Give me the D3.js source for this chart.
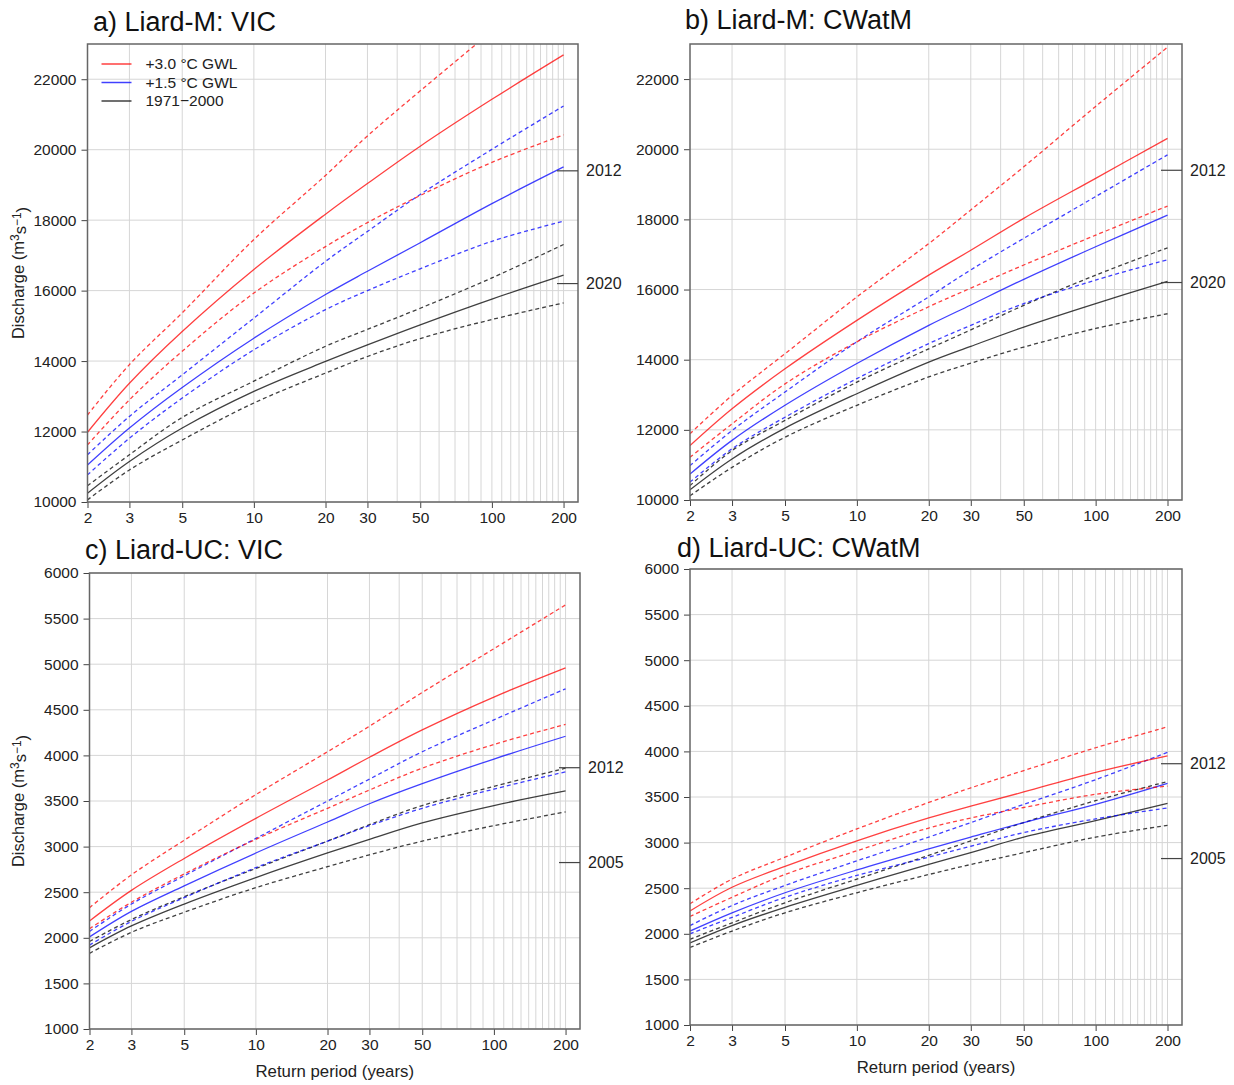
<!DOCTYPE html>
<html>
<head>
<meta charset="utf-8">
<script src="https://cdn.jsdelivr.net/npm/d3@7"></script>
<style>
  body { margin: 0; background: #fff; }
  svg { font-family: "Liberation Sans", Arial, sans-serif; }
</style>
</head>
<body>
<div id="chart"></div>
<script>
/* Return period curves, Liard river, four panels */

const returnPeriods = [2, 3, 5, 10, 20, 30, 50, 100, 200];
const xTickValues = [2, 3, 5, 10, 20, 30, 50, 100, 200];
const xGridValues = [3, 5, 10, 20, 30, 40, 50, 60, 70, 80, 90, 100, 110, 120, 130, 140, 150, 160, 170, 180, 190, 200];
const legendLabels = ["+3.0 °C GWL", "+1.5 °C GWL", "1971\u22122000"];

// a) Liard-M: VIC
const a_gwl30_med = [11980, 13370, 14840, 16600, 18170, 19040, 20100, 21430, 22690];
const a_gwl30_lo  = [11620, 12900, 14280, 15930, 17250, 17930, 18700, 19640, 20420];
const a_gwl30_hi  = [12470, 13900, 15370, 17450, 19270, 20390, 21670, 23370, 25100];
const a_gwl15_med = [11050, 12100, 13250, 14650, 15890, 16550, 17360, 18470, 19510];
const a_gwl15_lo  = [10770, 11810, 12950, 14320, 15460, 16000, 16620, 17400, 17970];
const a_gwl15_hi  = [11340, 12430, 13610, 15220, 16830, 17680, 18730, 20010, 21240];
const a_base_med  = [10250, 11150, 12100, 13140, 13990, 14460, 15030, 15760, 16440];
const a_base_lo   = [10060, 10910, 11760, 12810, 13660, 14130, 14640, 15180, 15650];
const a_base_hi   = [10460, 11340, 12400, 13430, 14420, 14900, 15500, 16360, 17310];

// b) Liard-M: CWatM
const b_gwl30_med = [11550, 12600, 13740, 15120, 16410, 17120, 18030, 19170, 20310];
const b_gwl30_lo  = [11220, 12170, 13310, 14510, 15510, 16040, 16700, 17550, 18380];
const b_gwl30_hi  = [11890, 12980, 14170, 15790, 17310, 18270, 19500, 21220, 22910];
const b_gwl15_med = [10740, 11700, 12700, 13890, 14980, 15560, 16290, 17220, 18120];
const b_gwl15_lo  = [10510, 11460, 12360, 13460, 14460, 14980, 15600, 16270, 16850];
const b_gwl15_hi  = [10980, 11980, 13080, 14510, 15790, 16560, 17460, 18650, 19840];
const b_base_med  = [10290, 11170, 12050, 13030, 13930, 14380, 14930, 15600, 16230];
const b_base_lo   = [10120, 10930, 11790, 12700, 13510, 13900, 14360, 14890, 15310];
const b_base_hi   = [10410, 11410, 12270, 13360, 14310, 14850, 15550, 16410, 17190];

// c) Liard-UC: VIC
const c_gwl30_med = [2185, 2520, 2870, 3310, 3730, 3980, 4280, 4640, 4960];
const c_gwl30_lo  = [2100, 2390, 2700, 3080, 3420, 3620, 3860, 4120, 4340];
const c_gwl30_hi  = [2330, 2690, 3070, 3570, 4040, 4320, 4690, 5170, 5650];
const c_gwl15_med = [2010, 2290, 2570, 2930, 3270, 3470, 3690, 3960, 4210];
const c_gwl15_lo  = [1920, 2180, 2440, 2770, 3060, 3230, 3420, 3630, 3820];
const c_gwl15_hi  = [2070, 2370, 2680, 3090, 3500, 3740, 4040, 4390, 4730];
const c_base_med  = [1890, 2130, 2370, 2660, 2930, 3080, 3260, 3450, 3610];
const c_base_lo   = [1830, 2060, 2280, 2550, 2780, 2910, 3060, 3230, 3380];
const c_base_hi   = [1960, 2200, 2450, 2760, 3060, 3240, 3450, 3660, 3860];

// d) Liard-UC: CWatM
const d_gwl30_med = [2250, 2510, 2740, 3020, 3270, 3400, 3555, 3770, 3950];
const d_gwl30_lo  = [2190, 2400, 2650, 2910, 3160, 3270, 3385, 3530, 3620];
const d_gwl30_hi  = [2330, 2600, 2840, 3150, 3440, 3600, 3790, 4040, 4270];
const d_gwl15_med = [2030, 2230, 2450, 2700, 2930, 3060, 3220, 3420, 3650];
const d_gwl15_lo  = [2000, 2180, 2400, 2640, 2840, 2960, 3110, 3260, 3380];
const d_gwl15_hi  = [2090, 2310, 2530, 2800, 3060, 3220, 3420, 3690, 3990];
const d_base_med  = [1900, 2090, 2290, 2530, 2760, 2890, 3060, 3240, 3430];
const d_base_lo   = [1850, 2030, 2230, 2450, 2650, 2760, 2890, 3060, 3190];
const d_base_hi   = [1940, 2120, 2340, 2600, 2860, 3020, 3220, 3460, 3670];

// observed floods marked on the right axis
const mEventYears = ["2012", "2020"];
const mEventQ = [19400, 16200];
const ucEventYears = ["2012", "2005"];
const ucEventQ = [3865, 2825];

const mTicks = [10000, 12000, 14000, 16000, 18000, 20000, 22000];
const ucTicks = [1000, 1500, 2000, 2500, 3000, 3500, 4000, 4500, 5000, 5500, 6000];

const colors = {red: "rgba(255,0,0,0.75)", blue: "rgba(0,0,255,0.75)", black: "rgba(0,0,0,0.75)"};

const width = 1234, height = 1085;

let svg = d3.select("#chart")
    .append("svg")
    .attr("width", width)
    .attr("height", height);

function seriesFor(base, g15, g30) {
    // draw order: baseline, +1.5, +3.0
    return [
        {v: base[1], c: colors.black, dash: true}, {v: base[2], c: colors.black, dash: true}, {v: base[0], c: colors.black, dash: false},
        {v: g15[1], c: colors.blue, dash: true}, {v: g15[2], c: colors.blue, dash: true}, {v: g15[0], c: colors.blue, dash: false},
        {v: g30[1], c: colors.red, dash: true}, {v: g30[2], c: colors.red, dash: true}, {v: g30[0], c: colors.red, dash: false}
    ];
}

function drawPanel(p) {
    const x = d3.scaleLog().domain([2, 230]).range([p.left, p.right]);
    const y = d3.scaleLinear().domain(p.yDomain).range([p.bottom, p.top]);
    const g = svg.append("g");

    g.append("clipPath").attr("id", "clip-" + p.id)
        .append("rect")
        .attr("x", p.left).attr("y", p.top)
        .attr("width", p.right - p.left).attr("height", p.bottom - p.top);

    // grid
    g.append("g").selectAll("line").data(xGridValues).join("line")
        .attr("x1", d => x(d)).attr("x2", d => x(d))
        .attr("y1", p.top).attr("y2", p.bottom)
        .attr("stroke", "#d6d6d6").attr("stroke-width", 1);
    g.append("g").selectAll("line").data(p.yTicks).join("line")
        .attr("x1", p.left).attr("x2", p.right)
        .attr("y1", d => y(d)).attr("y2", d => y(d))
        .attr("stroke", "#d6d6d6").attr("stroke-width", 1);

    // curves
    const line = d3.line()
        .x((d, i) => x(returnPeriods[i]))
        .y(d => y(d))
        .curve(d3.curveCatmullRom.alpha(0.5));

    g.append("g").attr("clip-path", `url(#clip-${p.id})`)
        .selectAll("path").data(p.series).join("path")
        .attr("d", d => line(d.v))
        .attr("fill", "none")
        .attr("stroke", d => d.c)
        .attr("stroke-width", 1.3)
        .attr("stroke-dasharray", d => d.dash ? "4,3" : null);

    // axes
    const xAxis = g.append("g")
        .attr("transform", `translate(0,${p.bottom})`)
        .call(d3.axisBottom(x).tickValues(xTickValues).tickFormat(d3.format("d")).tickSize(6).tickPadding(4));
    const yAxis = g.append("g")
        .attr("transform", `translate(${p.left},0)`)
        .call(d3.axisLeft(y).tickValues(p.yTicks).tickFormat(d3.format("d")).tickSize(6).tickPadding(5));
    for (let ax of [xAxis, yAxis]) {
        ax.select(".domain").remove();
        ax.selectAll(".tick line").attr("stroke", "#444");
        ax.selectAll(".tick text").attr("fill", "#222").style("font-size", "15.5px")
            .style("font-family", '"Liberation Sans", Arial, sans-serif');
    }

    // box
    g.append("rect")
        .attr("x", p.left).attr("y", p.top)
        .attr("width", p.right - p.left).attr("height", p.bottom - p.top)
        .attr("fill", "none").attr("stroke", "#666").attr("stroke-width", 1.5);

    // observed events on the right axis
    const ev = g.append("g").selectAll("g").data(p.eventYears).join("g");
    ev.append("line")
        .attr("x1", p.right - 21).attr("x2", p.right)
        .attr("y1", (d, i) => y(p.eventQ[i])).attr("y2", (d, i) => y(p.eventQ[i]))
        .attr("stroke", "#444").attr("stroke-width", 1.2);
    ev.append("text")
        .attr("x", p.right + 8)
        .attr("y", (d, i) => y(p.eventQ[i]))
        .attr("dy", "0.35em")
        .attr("fill", "#222")
        .style("font-size", "16px")
        .text(d => d);

    // title
    svg.append("text")
        .attr("x", p.titleX).attr("y", p.titleY)
        .style("font-size", "27px")
        .attr("fill", "#111")
        .text(p.title);

    if (p.yLabel) {
        const t = svg.append("text")
            .attr("transform", `translate(24,${(p.top + p.bottom) / 2}) rotate(-90)`)
            .attr("text-anchor", "middle")
            .style("font-size", "16.5px")
            .attr("fill", "#222");
        t.append("tspan").text("Discharge (m");
        t.append("tspan").attr("dy", "-0.45em").style("font-size", "12px").text("3");
        t.append("tspan").attr("dy", "0.45em").text("s");
        t.append("tspan").attr("dy", "-0.45em").style("font-size", "12px").text("\u22121");
        t.append("tspan").attr("dy", "0.45em").text(")");
    }
    if (p.xLabel) {
        svg.append("text")
            .attr("x", (p.left + p.right) / 2).attr("y", p.bottom + 48)
            .attr("text-anchor", "middle")
            .style("font-size", "16.8px")
            .attr("fill", "#222")
            .text("Return period (years)");
    }
    if (p.legend) {
        const lg = svg.append("g").selectAll("g").data(legendLabels).join("g")
            .attr("transform", (d, i) => `translate(${p.left + 14},${p.top + 20 + i * 18.5})`);
        lg.append("line").attr("x1", 0).attr("x2", 30)
            .attr("stroke", (d, i) => [colors.red, colors.blue, colors.black][i])
            .attr("stroke-width", 1.5);
        lg.append("text").attr("x", 44).attr("dy", "0.35em")
            .style("font-size", "15.5px").attr("fill", "#222")
            .text(d => d);
    }
}

drawPanel({id: "a", left: 87.5, right: 578, top: 44, bottom: 502, yDomain: [10000, 23000], yTicks: mTicks,
    series: seriesFor([a_base_med, a_base_lo, a_base_hi], [a_gwl15_med, a_gwl15_lo, a_gwl15_hi], [a_gwl30_med, a_gwl30_lo, a_gwl30_hi]),
    eventYears: mEventYears, eventQ: mEventQ, title: "a) Liard-M: VIC", titleX: 93, titleY: 31,
    yLabel: true, xLabel: false, legend: true});

drawPanel({id: "b", left: 690, right: 1182, top: 44, bottom: 500, yDomain: [10000, 23000], yTicks: mTicks,
    series: seriesFor([b_base_med, b_base_lo, b_base_hi], [b_gwl15_med, b_gwl15_lo, b_gwl15_hi], [b_gwl30_med, b_gwl30_lo, b_gwl30_hi]),
    eventYears: mEventYears, eventQ: mEventQ, title: "b) Liard-M: CWatM", titleX: 685, titleY: 29,
    yLabel: false, xLabel: false, legend: false});

drawPanel({id: "c", left: 89.5, right: 580, top: 573, bottom: 1029, yDomain: [1000, 6000], yTicks: ucTicks,
    series: seriesFor([c_base_med, c_base_lo, c_base_hi], [c_gwl15_med, c_gwl15_lo, c_gwl15_hi], [c_gwl30_med, c_gwl30_lo, c_gwl30_hi]),
    eventYears: ucEventYears, eventQ: ucEventQ, title: "c) Liard-UC: VIC", titleX: 85, titleY: 559,
    yLabel: true, xLabel: true, legend: false});

drawPanel({id: "d", left: 690, right: 1182, top: 569, bottom: 1025, yDomain: [1000, 6000], yTicks: ucTicks,
    series: seriesFor([d_base_med, d_base_lo, d_base_hi], [d_gwl15_med, d_gwl15_lo, d_gwl15_hi], [d_gwl30_med, d_gwl30_lo, d_gwl30_hi]),
    eventYears: ucEventYears, eventQ: ucEventQ, title: "d) Liard-UC: CWatM", titleX: 677, titleY: 557,
    yLabel: false, xLabel: true, legend: false});
</script>
</body>
</html>
